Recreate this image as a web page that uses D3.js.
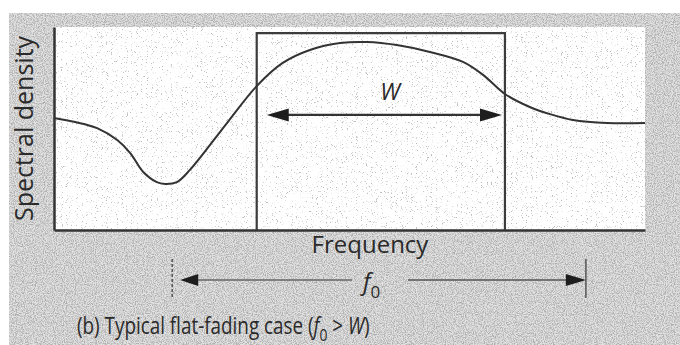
<!DOCTYPE html>
<html>
<head>
<meta charset="utf-8">
<script src="https://cdn.jsdelivr.net/npm/d3@7"></script>
<style>
  html, body { margin: 0; padding: 0; background: #fff; }
  svg { display: block; }
  text { font-family: "Open Sans", "Noto Sans", sans-serif; fill: #2a2a2a; }
</style>
</head>
<body>
<svg id="chart" width="680" height="345"></svg>
<script>
// Spectral density curve (frequency in arbitrary units 0..100, density 0..100)
const freq    = [0, 3.6, 7.3, 10.7, 12.9, 15.1, 17.4, 18.8, 20.8, 23.0, 29.4, 34.3, 38.7, 43.3, 48.4, 53.0, 58.0, 63.6, 69.2, 72.6, 76.3, 80.5, 83.9, 87.8, 93.6, 100];
const density = [55.2, 53.2, 50.2, 44.3, 37.9, 28.6, 23.6, 22.7, 23.6, 29.6, 53.2, 70.9, 82.3, 88.7, 92.1, 92.6, 91.1, 87.7, 82.8, 76.4, 67.0, 60.6, 57.1, 54.2, 52.7, 52.7];

// Signal band (box) and its width W
const bandEdges = [34.3, 76.3];
const bandTop = 97;
const wArrow = [36.0, 75.8];
const wArrowLevel = 56.7;

// Coherence bandwidth f0 marker
const f0Edges = [20, 90];

// Text labels
const xLabel = "Frequency";
const yLabel = "Spectral density";

const svg = d3.select("#chart");
const ink = "#333";

const x = d3.scaleLinear().domain([0, 100]).range([54, 645]);
const y = d3.scaleLinear().domain([0, 100]).range([230, 27]);

const defs = svg.append("defs");

// coarse stipple for the surrounding frame
const grain = defs.append("filter").attr("id", "grain")
  .attr("x", 0).attr("y", 0).attr("width", 1).attr("height", 1);
grain.append("feTurbulence").attr("type", "fractalNoise")
  .attr("baseFrequency", 0.9).attr("numOctaves", 2).attr("seed", 4).attr("result", "n");
grain.append("feColorMatrix").attr("in", "n").attr("type", "matrix")
  .attr("values", "0 0 0 0 0.42  0 0 0 0 0.42  0 0 0 0 0.42  3.0 0 0 0 -1.15");

// sparse dots for the plot field
const dots = defs.append("filter").attr("id", "dots")
  .attr("x", 0).attr("y", 0).attr("width", 1).attr("height", 1);
dots.append("feTurbulence").attr("type", "fractalNoise")
  .attr("baseFrequency", 1.2).attr("numOctaves", 1).attr("seed", 9).attr("result", "n");
dots.append("feColorMatrix").attr("in", "n").attr("type", "matrix")
  .attr("values", "0 0 0 0 0.5  0 0 0 0 0.5  0 0 0 0 0.5  9 0 0 0 -5.6");

// frame background
svg.append("rect").attr("x", 9).attr("y", 13).attr("width", 671).attr("height", 332)
  .attr("fill", "#e2e2e2");
svg.append("rect").attr("x", 9).attr("y", 13).attr("width", 671).attr("height", 332)
  .attr("fill", "#000").attr("filter", "url(#grain)");

// plot field
const field = [x(0), y(100), x(100) - x(0), y(0) - y(100)];
svg.append("rect").attr("x", field[0]).attr("y", field[1]).attr("width", field[2]).attr("height", field[3])
  .attr("fill", "#fff");
svg.append("rect").attr("x", field[0]).attr("y", field[1]).attr("width", field[2]).attr("height", field[3])
  .attr("fill", "#000").attr("filter", "url(#dots)");

// axes (domain lines only)
svg.append("g").attr("transform", `translate(0,${y(0)})`)
  .call(d3.axisBottom(x).tickValues([]).tickSizeOuter(0));
svg.append("g").attr("transform", `translate(${x(0)},0)`)
  .call(d3.axisLeft(y).tickValues([]).tickSizeOuter(0));
svg.selectAll(".domain").attr("stroke", ink).attr("stroke-width", 2.5);

// signal band box
svg.append("path")
  .attr("d", d3.line()([[x(bandEdges[0]), y(0)], [x(bandEdges[0]), y(bandTop)], [x(bandEdges[1]), y(bandTop)], [x(bandEdges[1]), y(0)]]))
  .attr("fill", "none").attr("stroke", "#3c3c3c").attr("stroke-width", 2.2);

// spectral density curve
const pts = freq.map((f, i) => [f, density[i]]);
svg.append("path").datum(pts)
  .attr("d", d3.line().x(d => x(d[0])).y(d => y(d[1])).curve(d3.curveCatmullRom.alpha(0.5)))
  .attr("fill", "none").attr("stroke", ink).attr("stroke-width", 2);

// arrowhead helper
function head(tipX, tipY, dir, len, half) {
  svg.append("path")
    .attr("d", `M${tipX},${tipY}L${tipX - dir * len},${tipY - half}L${tipX - dir * len},${tipY + half}Z`)
    .attr("fill", "#1e1e1e");
}

// W arrow
const wy = y(wArrowLevel);
svg.append("line").attr("x1", x(wArrow[0]) + 10).attr("x2", x(wArrow[1]) - 10)
  .attr("y1", wy).attr("y2", wy).attr("stroke", ink).attr("stroke-width", 2.2);
head(x(wArrow[0]), wy, -1, 22, 6.5);
head(x(wArrow[1]), wy, 1, 22, 6.5);
svg.append("text").attr("x", 390).attr("y", 100).attr("text-anchor", "middle")
  .attr("font-size", 23).attr("font-style", "italic").text("W");

// axis titles
svg.append("text").attr("x", 370).attr("y", 253).attr("text-anchor", "middle")
  .attr("font-size", 24).text(xLabel);
svg.append("text").attr("transform", `translate(33,${y(50)}) rotate(-90)`).attr("text-anchor", "middle")
  .attr("font-size", 25).text(yLabel);

// f0 marker
const fy = 280;
f0Edges.forEach(f => {
  svg.append("line").attr("x1", x(f)).attr("x2", x(f)).attr("y1", 259).attr("y2", 298)
    .attr("stroke", "#555").attr("stroke-width", 1.5).attr("stroke-dasharray", f === f0Edges[0] ? "3,2" : null);
});
svg.append("line").attr("x1", x(f0Edges[0]) + 20).attr("x2", 352).attr("y1", fy).attr("y2", fy)
  .attr("stroke", "#666").attr("stroke-width", 1.3);
svg.append("line").attr("x1", 408).attr("x2", x(f0Edges[1]) - 15).attr("y1", fy).attr("y2", fy)
  .attr("stroke", "#555").attr("stroke-width", 1.5);
head(x(f0Edges[0]) + 8, fy, -1, 18, 6);
head(x(f0Edges[1]), fy, 1, 20, 6);
const f0 = svg.append("text").attr("x", 363).attr("y", 290).attr("font-size", 24).attr("font-style", "italic");
f0.append("tspan").text("f");
f0.append("tspan").attr("dy", 8).attr("font-size", 17).attr("font-style", "normal").text("0");

// caption, set in a narrow face: squeeze horizontally to its measured span
const capG = svg.append("g").attr("transform", "translate(77,334)");
const cap = capG.append("text").attr("font-size", 23);
cap.append("tspan").text("(b) Typical flat-fading case (");
cap.append("tspan").attr("font-style", "italic").text("f");
cap.append("tspan").attr("dy", 7).attr("font-size", 17).text("0");
cap.append("tspan").attr("dy", -7).text(" > ");
cap.append("tspan").attr("font-style", "italic").text("W");
cap.append("tspan").text(")");
const capW = cap.node().getComputedTextLength();
capG.attr("transform", `translate(77,334) scale(${293 / capW},1)`);
</script>
</body>
</html>
